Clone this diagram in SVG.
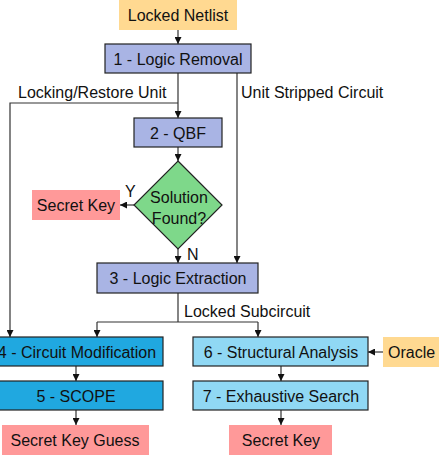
<svg xmlns="http://www.w3.org/2000/svg" width="439" height="458" viewBox="0 0 439 458">
  <style>
    text { font-family: "Liberation Sans", Arial, sans-serif; font-size: 16px; fill: #111; }
    .c { text-anchor: middle; }
    .box { stroke: #222; stroke-width: 1.2; }
    .input { fill: #FFD991; }
    .step { fill: #A9B4E4; }
    .dark { fill: #20A8E0; }
    .light { fill: #90D8F4; }
    .key { fill: #FF9999; }
    .dec { fill: #7ED88A; stroke: #222; stroke-width: 1.2; }
    .wire { fill: none; stroke: #333; stroke-width: 1.2; }
  </style>
  <defs>
    <marker id="arrow" viewBox="0 0 10 10" refX="10" refY="5" markerWidth="7" markerHeight="7" markerUnits="userSpaceOnUse" orient="auto">
      <path d="M0,0 L10,5 L0,10 z" fill="#111"/>
    </marker>
  </defs>

  <!-- connectors -->
  <g id="connectors">
    <path class="wire" d="M178,30 V44" marker-end="url(#arrow)"/>
    <path class="wire" d="M178,73 V118" marker-end="url(#arrow)"/>
    <path class="wire" d="M178,103 H10 V337" marker-end="url(#arrow)"/>
    <path class="wire" d="M237,73 V263" marker-end="url(#arrow)"/>
    <path class="wire" d="M178,147 V161" marker-end="url(#arrow)"/>
    <path class="wire" d="M134,205 H120" marker-end="url(#arrow)"/>
    <path class="wire" d="M178,249 V263" marker-end="url(#arrow)"/>
    <path class="wire" d="M178,293 V322" />
    <path class="wire" d="M97,322 H258" />
    <path class="wire" d="M97,322 V337" marker-end="url(#arrow)"/>
    <path class="wire" d="M258,322 V337" marker-end="url(#arrow)"/>
    <path class="wire" d="M76,366 V381" marker-end="url(#arrow)"/>
    <path class="wire" d="M76,410 V425" marker-end="url(#arrow)"/>
    <path class="wire" d="M281,366 V381" marker-end="url(#arrow)"/>
    <path class="wire" d="M281,410 V425" marker-end="url(#arrow)"/>
    <path class="wire" d="M383,352 H368" marker-end="url(#arrow)"/>
    <text x="18" y="98">Locking/Restore Unit</text>
    <text x="241" y="98">Unit Stripped Circuit</text>
    <text x="125" y="197">Y</text>
    <text x="187" y="260">N</text>
    <text x="184" y="317">Locked Subcircuit</text>
  </g>

  <g id="locked-netlist">
    <rect class="input" x="119" y="0" width="118" height="30"/>
    <text class="c" x="178" y="21">Locked Netlist</text>
  </g>
  <g id="logic-removal">
    <rect class="box step" x="105" y="44" width="146" height="29"/>
    <text class="c" x="178" y="65">1 - Logic Removal</text>
  </g>
  <g id="qbf">
    <rect class="box step" x="134" y="118" width="88" height="29"/>
    <text class="c" x="178" y="139">2 - QBF</text>
  </g>
  <g id="solution-found">
    <path class="dec" d="M178,161 L222,205 L178,249 L134,205 Z"/>
    <text class="c" x="179" y="203">Solution</text>
    <text class="c" x="179" y="224">Found?</text>
  </g>
  <g id="secret-key-qbf">
    <rect class="key" x="32" y="190" width="88" height="30"/>
    <text class="c" x="76" y="211">Secret Key</text>
  </g>
  <g id="logic-extraction">
    <rect class="box step" x="97" y="263" width="161" height="30"/>
    <text class="c" x="178" y="284">3 - Logic Extraction</text>
  </g>
  <g id="circuit-modification">
    <rect class="box dark" x="-2" y="337" width="165" height="29"/>
    <text class="c" x="77" y="358">4 - Circuit Modification</text>
  </g>
  <g id="scope">
    <rect class="box dark" x="-2" y="381" width="165" height="29"/>
    <text class="c" x="76" y="402">5 - SCOPE</text>
  </g>
  <g id="secret-key-guess">
    <rect class="key" x="2" y="425" width="147" height="30"/>
    <text class="c" x="75" y="446">Secret Key Guess</text>
  </g>
  <g id="structural-analysis">
    <rect class="box light" x="193" y="337" width="175" height="29"/>
    <text class="c" x="281" y="358">6 - Structural Analysis</text>
  </g>
  <g id="oracle">
    <rect class="input" x="383" y="337" width="58" height="30"/>
    <text x="388" y="358">Oracle</text>
  </g>
  <g id="exhaustive-search">
    <rect class="box light" x="193" y="381" width="175" height="29"/>
    <text class="c" x="281" y="402">7 - Exhaustive Search</text>
  </g>
  <g id="secret-key">
    <rect class="key" x="229" y="425" width="103" height="30"/>
    <text class="c" x="281" y="446">Secret Key</text>
  </g>
</svg>
